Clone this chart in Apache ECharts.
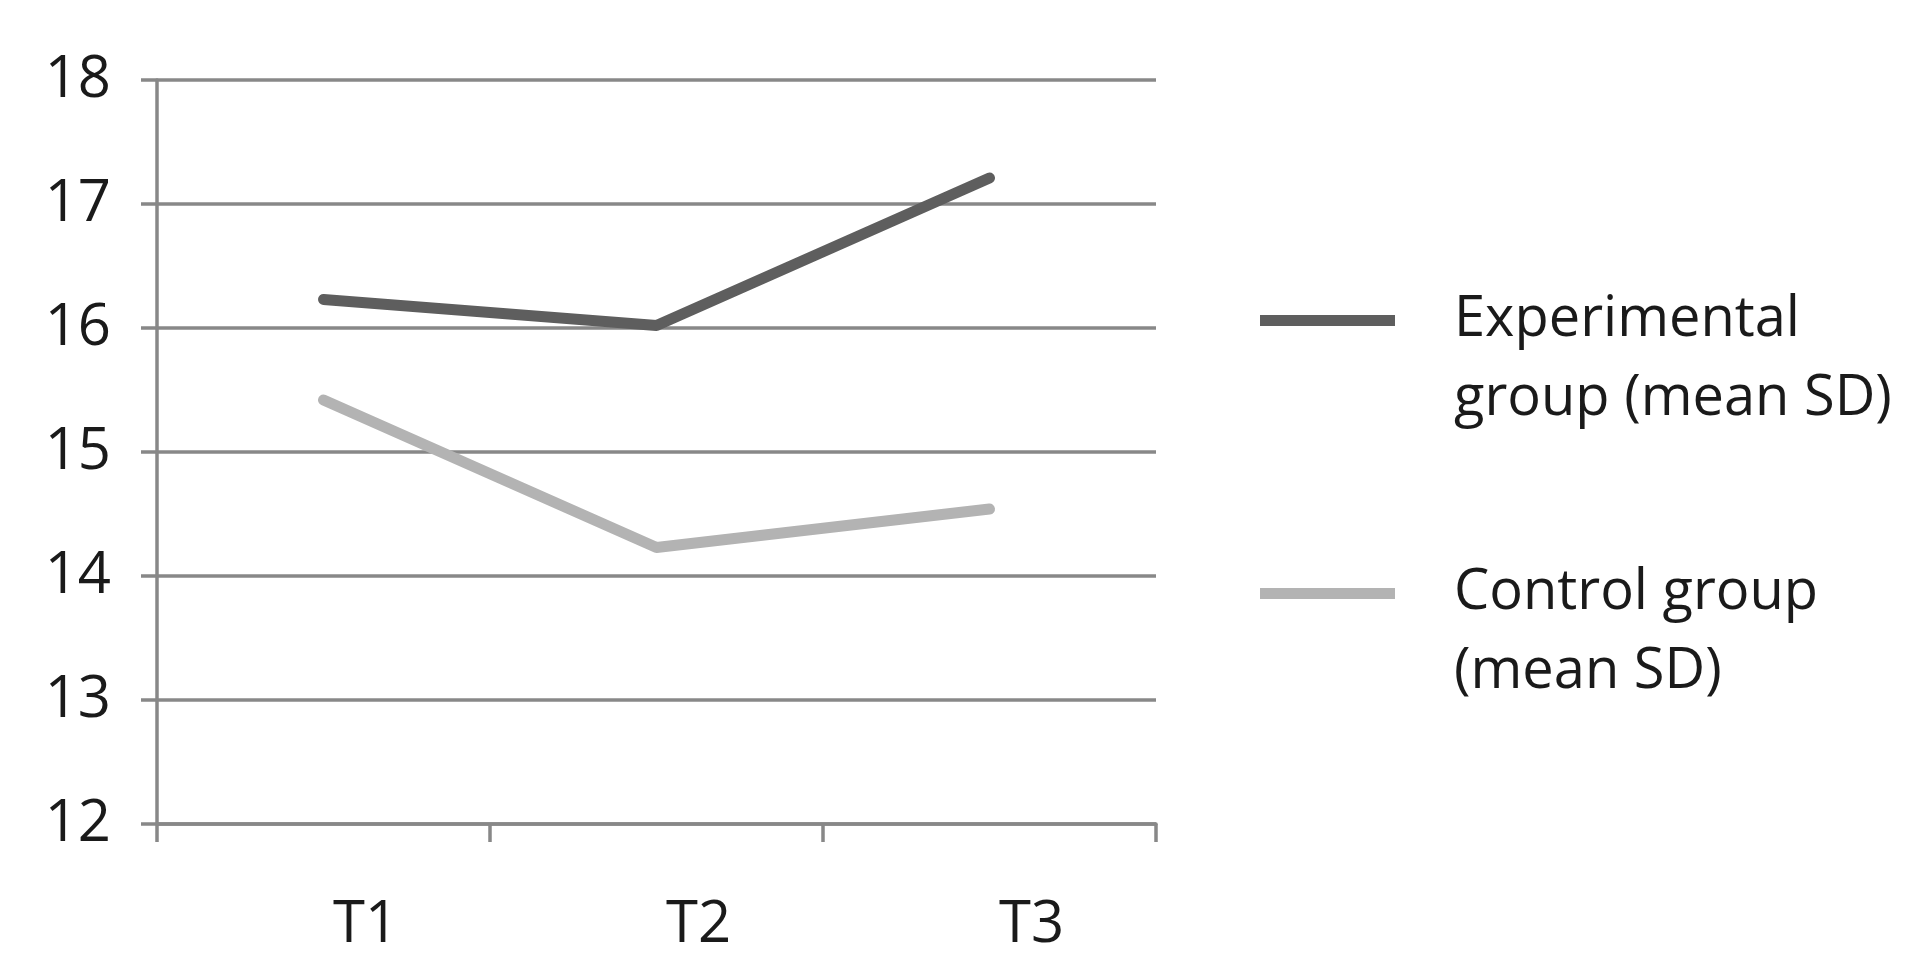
<!DOCTYPE html>
<html>
<head>
<meta charset="utf-8">
<script src="https://cdn.jsdelivr.net/npm/echarts@6/dist/echarts.min.js"></script>
<style>
html,body{margin:0;padding:0;background:#fff;}
#chart{width:1929px;height:973px;}
</style>
</head>
<body>
<div id="chart"></div>
<script>
// data
const categories = ["T1", "T2", "T3"];
const experimental = [16.23, 16.02, 17.21];
const control = [15.42, 14.23, 14.54];
const seriesNames = ["Experimental\ngroup (mean SD)", "Control group\n(mean SD)"];

const gridColor = "#888888";
const textColor = "#1a1a1a";
// bar at the top of a taller box so the icon sits on the first text line
const legendIcon = "path://M0,0H135V11H0Z M0,89.9h0.1v0.1h-0.1Z";

let myChart = echarts.init(document.getElementById("chart"));
let option = {
  backgroundColor: "#ffffff",
  animation: false,
  grid: {
    left: 157,
    right: 773,
    top: 80,
    bottom: 149
  },
  legend: {
    orient: "vertical",
    left: 1255,
    top: 276,
    itemWidth: 135,
    itemHeight: 90,
    itemGap: 115,
    icon: legendIcon,
    textStyle: {
      fontFamily: "Open Sans",
      fontSize: 56,
      lineHeight: 79,
      color: textColor,
      padding: [0, 0, 0, 54]
    },
    data: seriesNames
  },
  xAxis: {
    type: "category",
    data: categories,
    boundaryGap: true,
    axisLine: {
      show: true,
      lineStyle: { color: gridColor, width: 3.5 }
    },
    axisTick: {
      show: true,
      length: 18,
      lineStyle: { color: gridColor, width: 3.5 }
    },
    axisLabel: {
      fontFamily: "Open Sans",
      fontSize: 58,
      lineHeight: 60,
      color: textColor,
      margin: 71,
      padding: [0, 0, 0, 84]
    }
  },
  yAxis: {
    type: "value",
    min: 12,
    max: 18,
    interval: 1,
    axisLine: {
      show: true,
      lineStyle: { color: gridColor, width: 3.5 }
    },
    axisTick: {
      show: true,
      length: 16,
      lineStyle: { color: gridColor, width: 3.5 }
    },
    splitLine: {
      show: true,
      lineStyle: { color: gridColor, width: 3.5 }
    },
    axisLabel: {
      fontFamily: "Open Sans",
      fontSize: 58,
      color: textColor,
      margin: 46
    }
  },
  series: [
    {
      name: seriesNames[0],
      type: "line",
      data: experimental,
      symbol: "none",
      itemStyle: { color: "#5e5e5e" },
      lineStyle: { color: "#5e5e5e", width: 11, cap: "round", join: "round" }
    },
    {
      name: seriesNames[1],
      type: "line",
      data: control,
      symbol: "none",
      itemStyle: { color: "#b3b3b3" },
      lineStyle: { color: "#b3b3b3", width: 11, cap: "round", join: "round" }
    }
  ]
};
myChart.setOption(option);
</script>
</body>
</html>
